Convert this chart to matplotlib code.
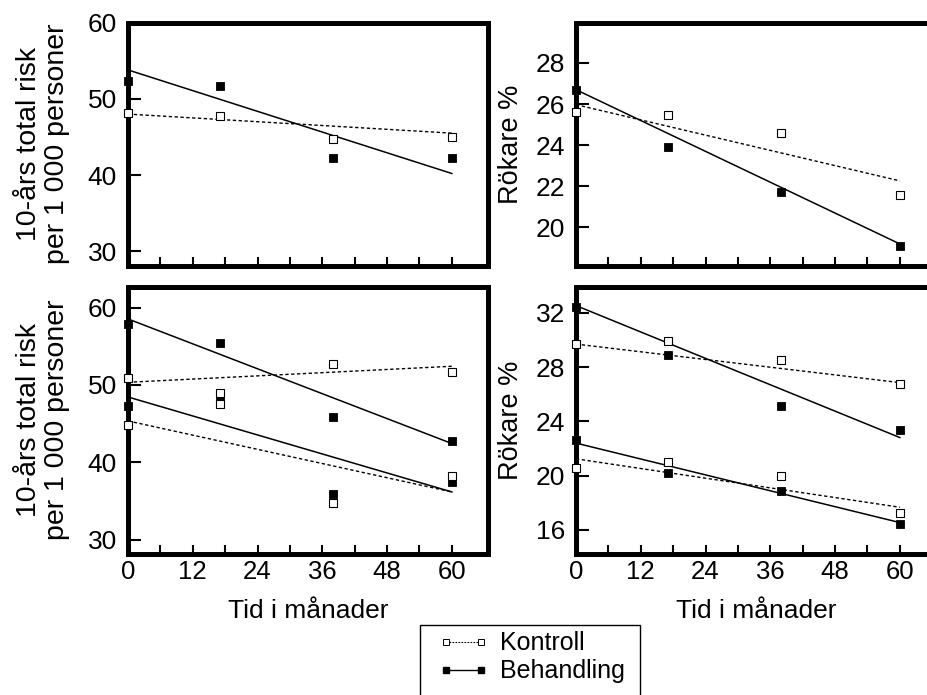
import matplotlib
matplotlib.use("Agg")
import matplotlib.pyplot as plt
from matplotlib.lines import Line2D
from matplotlib.patches import Rectangle

plt.rcParams["font.family"] = ["Liberation Sans", "DejaVu Sans"]

# Measurement times (months)
months = [0, 17, 38, 60]
fit_months = [0, 60]

# 10-year total risk per 1 000 persons, single group
risk_ctrl = [48.2, 47.8, 44.7, 45.0]
risk_treat = [52.4, 51.7, 42.2, 42.2]
risk_ctrl_fit = [48.0, 45.5]
risk_treat_fit = [53.8, 40.2]

# Smokers %, single group
smk_ctrl = [25.6, 25.47, 24.57, 21.58]
smk_treat = [26.67, 23.9, 21.72, 19.1]
smk_ctrl_fit = [25.97, 22.26]
smk_treat_fit = [26.7, 19.19]

# 10-year total risk, two subgroups (high / low)
risk_hi_treat = [57.93, 55.48, 45.82, 42.81]
risk_hi_ctrl = [50.95, 48.96, 52.76, 51.67]
risk_lo_treat = [47.24, 48.31, 35.86, 37.5]
risk_lo_ctrl = [44.82, 47.59, 34.74, 38.28]
risk_hi_treat_fit = [58.53, 42.42]
risk_hi_ctrl_fit = [50.34, 52.41]
risk_lo_treat_fit = [48.44, 36.16]
risk_lo_ctrl_fit = [45.34, 36.16]

# Smokers %, two subgroups (high / low)
smk_hi_treat = [32.46, 28.9, 25.14, 23.38]
smk_hi_ctrl = [29.69, 29.89, 28.5, 26.72]
smk_lo_treat = [22.61, 20.21, 18.83, 16.45]
smk_lo_ctrl = [20.58, 20.98, 19.99, 17.22]
smk_hi_treat_fit = [32.53, 22.8]
smk_hi_ctrl_fit = [29.69, 26.85]
smk_lo_treat_fit = [22.39, 16.53]
smk_lo_ctrl_fit = [21.23, 17.66]

xticks_major = [0, 12, 24, 36, 48, 60]
xticks_all = [0, 6, 12, 18, 24, 30, 36, 42, 48, 54, 60]

risk_label = "10-års total risk\nper 1 000 personer"
smk_label = "Rökare %"
x_label = "Tid i månader"

W, H = 927, 695
fig = plt.figure(figsize=(W / 100, H / 100), dpi=100)

def frac(x0, y_top, x1, y_bot):
    return [x0 / W, 1 - y_bot / H, (x1 - x0) / W, (y_bot - y_top) / H]

ax_tl = fig.add_axes(frac(128, 22.7, 488, 265.5))
ax_tr = fig.add_axes(frac(576, 22.7, 936, 265.5))
ax_bl = fig.add_axes(frac(128, 287, 488, 553.5))
ax_br = fig.add_axes(frac(576, 287, 936, 553.5))

YTICK_FS = 19
XTICK_FS = 18.5
LABEL_FS = 19

def style(ax, ylim, yticks, ylabel, label_x, label_fs, show_xlabels):
    ax.set_xlim(0, 66.7)
    ax.set_ylim(*ylim)
    ax.set_yticks(yticks)
    ax.set_xticks(xticks_all)
    if show_xlabels:
        ax.set_xticklabels([str(t) if t in xticks_major else "" for t in xticks_all])
        ax.set_xlabel(x_label, fontsize=LABEL_FS)
        ax.xaxis.set_label_coords(0.5, -0.17)
    else:
        ax.set_xticklabels([])
    for sp in ax.spines.values():
        sp.set_linewidth(3.6)
        sp.set_capstyle("projecting")
    ax.tick_params(axis="y", direction="in", length=9.5, width=1.5,
                   labelsize=YTICK_FS, pad=8)
    ax.tick_params(axis="x", direction="in", length=6.7, width=1.5,
                   labelsize=XTICK_FS, pad=5)
    ax.set_ylabel(ylabel, fontsize=label_fs, linespacing=1.12)
    ax.yaxis.set_label_coords(label_x, 0.5)

def series(ax, ctrl, treat, ctrl_fit, treat_fit):
    ax.plot(fit_months, ctrl_fit, color="black", lw=1.0,
            linestyle=(0, (2.4, 1.8)), zorder=2)
    ax.plot(fit_months, treat_fit, color="black", lw=1.1, zorder=2)
    ax.plot(months, treat, linestyle="none", marker="s", ms=6.2,
            mfc="black", mec="black", mew=0.6, clip_on=False, zorder=5)
    ax.plot(months, ctrl, linestyle="none", marker="s", ms=6.2,
            mfc="white", mec="black", mew=0.8, clip_on=False, zorder=6)

series(ax_tl, risk_ctrl, risk_treat, risk_ctrl_fit, risk_treat_fit)
style(ax_tl, (28.12, 60), [30, 40, 50, 60], risk_label, -0.16, 20.5, False)

series(ax_tr, smk_ctrl, smk_treat, smk_ctrl_fit, smk_treat_fit)
style(ax_tr, (18.14, 29.96), [20, 22, 24, 26, 28], smk_label, -0.145, 19.5, False)

series(ax_bl, risk_hi_ctrl, risk_hi_treat, risk_hi_ctrl_fit, risk_hi_treat_fit)
series(ax_bl, risk_lo_ctrl, risk_lo_treat, risk_lo_ctrl_fit, risk_lo_treat_fit)
style(ax_bl, (28.2, 62.66), [30, 40, 50, 60], risk_label, -0.16, 20.5, True)

series(ax_br, smk_hi_ctrl, smk_hi_treat, smk_hi_ctrl_fit, smk_hi_treat_fit)
series(ax_br, smk_lo_ctrl, smk_lo_treat, smk_lo_ctrl_fit, smk_lo_treat_fit)
style(ax_br, (14.25, 33.9), [16, 20, 24, 28, 32], smk_label, -0.145, 19.5, True)

# Legend box (runs off the bottom edge of the figure)
fig.patches.append(Rectangle((420 / W, -0.05), 220 / W, (H - 625) / H + 0.05,
                             transform=fig.transFigure, fill=False,
                             lw=1.0, ec="black"))
handles = [
    Line2D([0, 1], [0, 0], color="black", lw=0.8, linestyle=(0, (1.5, 1.2)),
           marker="s", ms=5, mfc="white", mec="black", mew=0.7),
    Line2D([0, 1], [0, 0], color="black", lw=1.0,
           marker="s", ms=5, mfc="black", mec="black"),
]
fig.legend(handles, ["Kontroll", "Behandling"], loc="upper left",
           bbox_to_anchor=(436 / W, 1 - 629 / H), frameon=False,
           fontsize=18, numpoints=2, handlelength=2.0, handletextpad=0.45,
           labelspacing=0.15, borderpad=0.1, borderaxespad=0)

fig.savefig("out.png", dpi=100)
